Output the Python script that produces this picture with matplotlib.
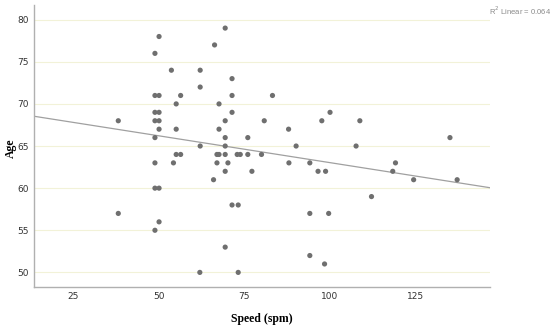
import numpy as np
import matplotlib
matplotlib.use("Agg")
import matplotlib.pyplot as plt

speed = [38.2, 38.2, 48.9, 48.9, 48.9, 48.9, 48.9, 48.9, 48.9, 48.9,
         50.1, 50.1, 50.1, 50.1, 50.1, 50.1, 50.1, 53.7, 54.3, 55.1,
         55.1, 55.1, 56.4, 56.4, 62.1, 62.1, 62.1, 62.0, 66.0, 66.3,
         67.0, 67.0, 67.6, 67.6, 67.6, 69.4, 69.4, 69.4, 69.4, 69.4,
         69.4, 69.4, 70.2, 71.4, 71.4, 71.4, 71.4, 72.9, 73.2, 73.2,
         73.8, 76.0, 76.0, 77.2, 80.0, 80.8, 83.2, 87.9, 88.0, 90.1,
         94.1, 94.1, 94.1, 96.5, 97.6, 98.4, 98.7, 99.6, 100.0, 107.6,
         108.7, 112.1, 118.3, 119.1, 124.4, 135.0, 137.1]
age = [68, 57, 76, 71, 69, 68, 66, 63, 60, 55,
       78, 71, 69, 68, 67, 60, 56, 74, 63, 70,
       67, 64, 71, 64, 74, 72, 65, 50, 61, 77,
       64, 63, 70, 67, 64, 79, 68, 66, 65, 64,
       62, 53, 63, 73, 71, 69, 58, 64, 58, 50,
       64, 66, 64, 62, 64, 68, 71, 67, 63, 65,
       63, 57, 52, 62, 68, 51, 62, 57, 69, 65,
       68, 59, 62, 63, 61, 66, 61]

x_ticks = [25, 50, 75, 100, 125]
y_ticks = [50, 55, 60, 65, 70, 75, 80]
r2_label = "R$^2$ Linear = 0.064"

x = np.array(speed)
y = np.array(age)

fig = plt.figure(figsize=(5.5, 3.25), dpi=100)
ax = fig.add_axes([0.0618, 0.1178, 0.891 - 0.0618, 0.9846 - 0.1178])

xlim = (13.6, 146.7)
ax.set_xlim(*xlim)
ax.set_ylim(48.3, 81.74)

for yt in y_ticks:
    ax.axhline(yt, color="#f2f2d8", lw=0.8, zorder=0)

ax.scatter(x, y, s=14, color="#6f6f6f", edgecolors="none", zorder=3)

slope, intercept = np.polyfit(x, y, 1)
xs = np.array(xlim)
ax.plot(xs, slope * xs + intercept, color="#a0a0a0", lw=0.9, zorder=2)

ax.set_xticks(x_ticks)
ax.set_yticks(y_ticks)
ax.tick_params(length=0, labelsize=6.5, labelcolor="#333333", pad=4)

for s in ["top", "right"]:
    ax.spines[s].set_visible(False)
for s in ["left", "bottom"]:
    ax.spines[s].set_color("#b0b0b0")
    ax.spines[s].set_linewidth(1.0)

ax.set_xlabel("Speed (spm)", family="Liberation Serif", fontweight="bold",
              fontsize=8.5)
ax.set_ylabel("Age", family="Liberation Serif", fontweight="bold",
              fontsize=8.5)
ax.xaxis.set_label_coords(0.5, -0.093)
ax.yaxis.set_label_coords(-0.037, 0.492)

fig.text(0.889, 1 - 11 / 325, r2_label, ha="left", va="center",
         fontsize=5.5, color="#8a8a8a", family="Liberation Sans")

fig.savefig("out.png", dpi=100)
